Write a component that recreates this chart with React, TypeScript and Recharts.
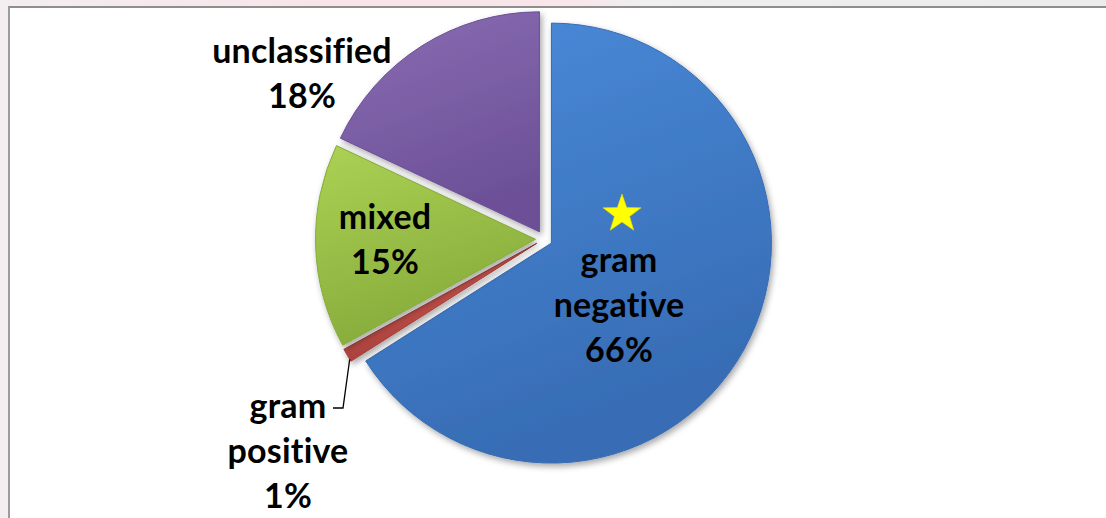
import React from 'react';
import { PieChart, Pie, Cell } from 'recharts';

// values, clockwise from 12 o'clock
const categories = ['gram negative', 'gram positive', 'mixed', 'unclassified'];
const shares = [66, 1, 15, 18];
const sliceColors = [
  ['#4a8bda', '#376cb4'],
  ['#d85c56', '#a53f3b'],
  ['#abd254', '#87ab3b'],
  ['#8a6db3', '#6c5097'],
];

const data = categories.map((name, i) => ({ name, value: shares[i] }));

// geometry
const CX = 544;
const CY = 239;
const RADIUS = 220;
const EXPLODE = 8.5;
const START = 90;
const END = -270;
const LINE_GAP = 45;
const RAD = Math.PI / 180;

// first-line baseline of each label, relative to the pie centre
const labelPos = [
  { dx: 75, dy: 33 },
  { dx: -256, dy: 179 },
  { dx: -159, dy: -10 },
  { dx: -242, dy: -176 },
];

const total = shares.reduce((a, b) => a + b, 0);
const midAngles = shares.map((v, i) => {
  const before = shares.slice(0, i).reduce((a, b) => a + b, 0);
  return START + (END - START) * ((before + v / 2) / total);
});
const centers = midAngles.map((a) => ({
  x: CX + EXPLODE * Math.cos(a * RAD),
  y: CY - EXPLODE * Math.sin(a * RAD),
}));

const starPoints = (x: number, y: number, r: number) => {
  const pts: string[] = [];
  for (let i = 0; i < 10; i++) {
    const rr = i % 2 === 0 ? r : r * 0.4;
    const a = (-90 + i * 36) * RAD;
    pts.push(`${x + rr * Math.cos(a)},${y + rr * Math.sin(a)}`);
  }
  return pts.join(' ');
};

const renderLabel = (slice: number) => (props: any) => {
  if (props.index !== slice) return null;
  const pos = labelPos[slice];
  const x = CX + pos.dx;
  const y = CY + pos.dy;
  const lines = [...categories[slice].split(' '), `${shares[slice]}%`];
  let leader = null;
  if (slice === 1) {
    const a = props.startAngle - 0.6;
    const sx = props.cx + props.outerRadius * Math.cos(-a * RAD);
    const sy = props.cy + props.outerRadius * Math.sin(-a * RAD);
    leader = (
      <polyline
        points={`${sx},${sy} ${CX - 201},${CY + 169} ${CX - 211},${CY + 169}`}
        fill="none"
        stroke="#000"
        strokeWidth={1.3}
      />
    );
  }
  return (
    <g>
      {leader}
      {slice === 0 && (
        <polygon points={starPoints(x + 3, y - 58, 20)} fill="#ffff00" stroke="#e8dc00" strokeWidth={0.6} />
      )}
      <text
        x={x}
        y={y}
        textAnchor="middle"
        fontFamily="Lato, 'Open Sans', sans-serif"
        fontWeight={700}
        fontSize={34}
        letterSpacing={0.2}
        fill="#000"
      >
        {lines.map((l, i) => (
          <tspan key={i} x={x} dy={i === 0 ? 0 : LINE_GAP}>
            {l}
          </tspan>
        ))}
      </text>
    </g>
  );
};

export default function App() {
  return (
    <div
      style={{
        position: 'absolute',
        left: 0,
        top: 0,
        width: 1106,
        height: 518,
        overflow: 'hidden',
        background: 'linear-gradient(90deg, #f3eef0 0%, #f8e4e9 30%, #f8e6ea 52%, #efefef 58%, #ececec 100%)',
      }}
    >
      <div
        style={{
          position: 'absolute',
          left: 8,
          top: 6,
          width: 1106,
          height: 520,
          background: '#fff',
          borderTop: '2px solid #8e8e8e',
          borderLeft: '2px solid #9c9c9c',
        }}
      />
      <div style={{ position: 'absolute', left: 0, top: 0 }}>
        <PieChart width={1106} height={518} margin={{ top: 0, right: 0, bottom: 0, left: 0 }}>
          <defs>
            {sliceColors.map((c, i) => (
              <linearGradient key={i} id={`grad${i}`} x1="0" y1="0" x2="0.35" y2="1">
                <stop offset="0%" stopColor={c[0]} />
                <stop offset="100%" stopColor={c[1]} />
              </linearGradient>
            ))}
            <filter id="sliceShadow" x="-10%" y="-10%" width="130%" height="130%">
              <feDropShadow dx="2" dy="3" stdDeviation="3" floodColor="#000" floodOpacity="0.35" />
            </filter>
          </defs>
          {centers.map((c, slice) => (
            <Pie
              key={slice}
              data={data}
              dataKey="value"
              nameKey="name"
              cx={c.x}
              cy={c.y}
              outerRadius={RADIUS}
              startAngle={START}
              endAngle={END}
              isAnimationActive={false}
              labelLine={false}
              label={renderLabel(slice)}
            >
              {data.map((d, i) =>
                i === slice ? (
                  <Cell
                    key={d.name}
                    fill={`url(#grad${i})`}
                    stroke={sliceColors[i][1]}
                    strokeWidth={1}
                    filter="url(#sliceShadow)"
                  />
                ) : (
                  <Cell key={d.name} fill="none" stroke="none" />
                ),
              )}
            </Pie>
          ))}
        </PieChart>
      </div>
    </div>
  );
}
